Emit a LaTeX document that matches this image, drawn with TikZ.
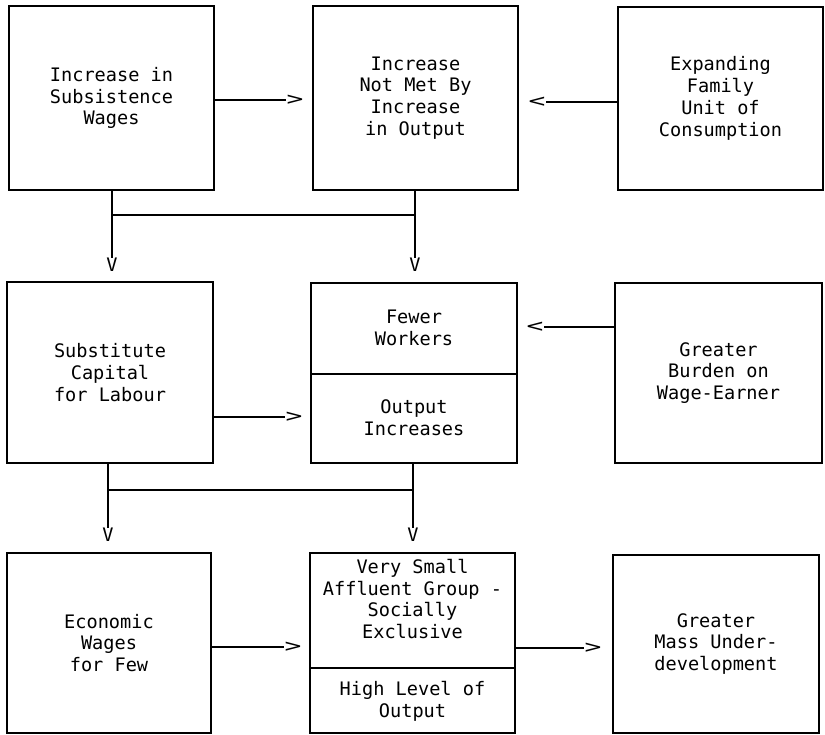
\documentclass[tikz,border=0pt]{standalone}
\usepackage{fontspec}
\setmonofont{DejaVu Sans Mono}
\begin{document}
\begin{tikzpicture}[x=1pt,y=-1pt,
  box/.style={draw,line width=1.3pt,minimum width=205pt,inner sep=0pt,
    font=\ttfamily\fontsize{18.6}{21.8}\selectfont,align=center},
  txt/.style={inner sep=0pt,font=\ttfamily\fontsize{18.6}{21.8}\selectfont,align=center},
  head/.style={inner sep=0pt,font=\ttfamily\fontsize{18.6}{21.8}\selectfont},
  conn/.style={line width=1.3pt}]
\useasboundingbox (0,0) rectangle (825,735);
% row 1
\node[box,minimum height=184pt] (A) at (111.5,98) {Increase in\\Subsistence\\Wages};
\node[box,minimum height=184pt] (B) at (415.5,98) {Increase\\Not Met By\\Increase\\in Output};
\node[box,minimum height=183pt] (C) at (720.5,98.5) {Expanding\\Family\\Unit of\\Consumption};
% row 2
\node[box,minimum width=206pt,minimum height=181pt] (D) at (110,372.5) {Substitute\\Capital\\for Labour};
\node[box,minimum width=206pt,minimum height=180pt] (E) at (414,373) {};
\node[txt] (Etop) at (414,328) {Fewer\\Workers};
\node[txt] (Ebot) at (414,418) {Output\\Increases};
\draw[conn] (E.west |- 0,374) -- (E.east |- 0,374);
\node[box,minimum width=207pt,minimum height=180pt] (F) at (718.5,373) {Greater\\Burden on\\Wage-Earner};
% row 3
\node[box,minimum width=204pt,minimum height=180pt] (G) at (109,643) {Economic\\Wages\\for Few};
\node[box,minimum width=205pt,minimum height=180pt] (H) at (412.5,643) {};
\node[txt] (Htop) at (412.5,599) {Very Small\\Affluent Group -\\Socially\\Exclusive};
\node[txt] (Hbot) at (412.5,701) {High Level of\\Output};
\draw[conn] (H.west |- 0,668) -- (H.east |- 0,668);
\node[box,minimum width=206pt,minimum height=178pt] (I) at (716,644) {Greater\\Mass Under-\\development};
% heads
\node[head] (hAB) at (295,100) {\scalebox{1.5}[1]{>}};
\node[head] (hCB) at (537,102) {\scalebox{1.5}[1]{<}};
\node[head] (hA) at (112,265) {V};
\node[head] (hB) at (415,265) {V};
\node[head] (hDE) at (294,417) {\scalebox{1.5}[1]{>}};
\node[head] (hFE) at (535,327) {\scalebox{1.5}[1]{<}};
\node[head] (hD) at (108,535) {V};
\node[head] (hE) at (413,535) {V};
\node[head] (hGH) at (293,647) {\scalebox{1.5}[1]{>}};
\node[head] (hHI) at (593,648) {\scalebox{1.5}[1]{>}};
% connectors
\draw[conn] (A.east |- hAB) -- (hAB.west);
\draw[conn] (C.west |- hCB) -- (hCB.east);
\draw[conn] (A.south -| hA) -- (hA.north);
\draw[conn] (B.south -| hB) -- (hB.north);
\coordinate (jA) at (112,215);
\coordinate (jB) at (415,215);
\draw[conn] (jA) -- (jB);
\draw[conn] (D.east |- hDE) -- (hDE.west);
\draw[conn] (F.west |- hFE) -- (hFE.east);
\draw[conn] (D.south -| hD) -- (hD.north);
\draw[conn] (E.south -| hE) -- (hE.north);
\coordinate (jD) at (108,490);
\coordinate (jE) at (413,490);
\draw[conn] (jE) -- (jD);
\draw[conn] (G.east |- hGH) -- (hGH.west);
\draw[conn] (H.east |- hHI) -- (hHI.west);
\end{tikzpicture}
\end{document}
